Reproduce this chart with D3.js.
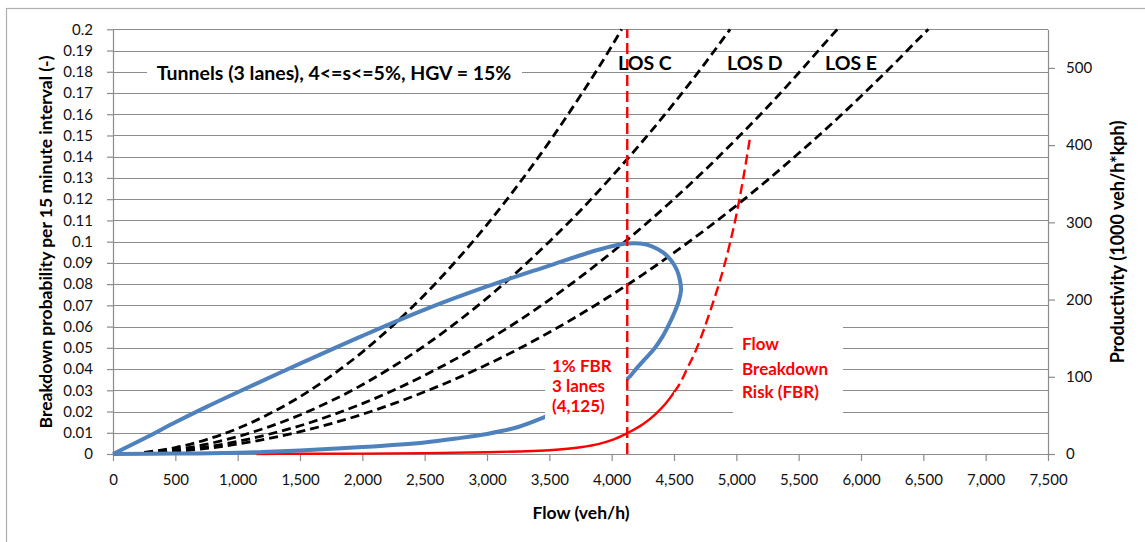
<!DOCTYPE html>
<html><head><meta charset="utf-8">
<script src="https://cdn.jsdelivr.net/npm/d3@7"></script>
<style>
html,body{margin:0;padding:0;background:#fff;}
svg{display:block;font-family:Lato,"Open Sans",sans-serif;}
</style></head><body>
<svg id="chart" width="1145" height="542"></svg>
<script>
// ---- tick values ----
const flowTicks = [0,500,1000,1500,2000,2500,3000,3500,4000,4500,5000,5500,6000,6500,7000,7500];
const probTicks = [0,0.01,0.02,0.03,0.04,0.05,0.06,0.07,0.08,0.09,0.1,0.11,0.12,0.13,0.14,0.15,0.16,0.17,0.18,0.19,0.2];
const prodTicks = [0,100,200,300,400,500];

// ---- LOS dashed curves: [flow, breakdown-probability axis value] ----
const losCurve1 = [[250,0.00075],[500,0.003],[750,0.0068],[1000,0.012],[1250,0.0188],[1500,0.027],[1750,0.0368],[2000,0.048],[2250,0.0608],[2500,0.075],[2750,0.0908],[3000,0.108],[3250,0.1268],[3500,0.147],[3750,0.1688],[4000,0.192],[4080,0.2]];
const losCurve2 = [[250,0.0005],[500,0.002],[750,0.0046],[1000,0.0082],[1250,0.0128],[1500,0.0184],[1750,0.025],[2000,0.0326],[2250,0.0413],[2500,0.051],[2750,0.0617],[3000,0.0734],[3250,0.0862],[3500,0.1],[3750,0.1147],[4000,0.1306],[4250,0.1474],[4500,0.1652],[4750,0.1841],[4950,0.2]];
const losCurve3 = [[250,0.00037],[500,0.0015],[750,0.0033],[1000,0.0059],[1250,0.0093],[1500,0.0133],[1750,0.0182],[2000,0.0237],[2250,0.03],[2500,0.0371],[2750,0.0448],[3000,0.0534],[3250,0.0626],[3500,0.0726],[3750,0.0834],[4000,0.0949],[4250,0.1071],[4500,0.1201],[4750,0.1338],[5000,0.1483],[5250,0.1634],[5500,0.1794],[5750,0.1961],[5810,0.2]];
const losCurve4 = [[250,0.0003],[500,0.0012],[750,0.0026],[1000,0.0047],[1250,0.0073],[1500,0.0105],[1750,0.0143],[2000,0.0187],[2250,0.0237],[2500,0.0293],[2750,0.0354],[3000,0.0421],[3250,0.0494],[3500,0.0573],[3750,0.0658],[4000,0.0749],[4250,0.0845],[4500,0.0948],[4750,0.1056],[5000,0.117],[5250,0.129],[5500,0.1416],[5750,0.1547],[6000,0.1685],[6250,0.1828],[6500,0.1977],[6540,0.2]];

// ---- Productivity loop (right axis): [flow, productivity] ----
const productivity = [[0,0],[250,20],[500,41],[750,61],[1000,80],[1500,117],[2000,153],[2500,187],[3000,217],[3500,244],[3800,260],[4000,269],[4125,272.5],[4230,272.5],[4323,269],[4412,261],[4476,251],[4524,238],[4548,225],[4556,212],[4540,199],[4508,185],[4460,168],[4404,151],[4340,136],[4267,123],[4195,110],[4131,98],[4000,86],[3800,71],[3600,57],[3465,48],[3250,35],[3000,26],[2750,20],[2500,15],[2000,9],[1500,4.5],[1200,2.5],[1000,1.5],[500,0.5],[0,0]];

// ---- Flow breakdown risk (left axis); dashed beyond fbrDashFrom ----
const fbrCurve = [[1150,0],[1500,0.0001],[2000,0.0002],[2500,0.0004],[3000,0.0008],[3250,0.0012],[3500,0.0018],[3750,0.0032],[3900,0.0048],[4000,0.0065],[4125,0.0098],[4250,0.014],[4350,0.0187],[4430,0.0235],[4500,0.029],[4550,0.0335],[4604,0.04],[4684,0.05],[4748,0.06],[4800,0.069],[4850,0.078],[4900,0.088],[4950,0.0995],[5000,0.1125],[5050,0.128],[5110,0.149]];
const fbrDashFrom = 4500;
const fbrMarkerFlow = [4125];

const svg = d3.select("#chart");
const x = d3.scaleLinear().domain([0,7500]).range([113,1048]);
const yL = d3.scaleLinear().domain([0,0.2]).range([454,29.3]);
const yR = d3.scaleLinear().domain([0,550]).range([454,29.3]);
const gridCol = "#8c8c8c";

svg.append("rect").attr("x",0).attr("y",0).attr("width",1145).attr("height",542).attr("fill","#fff");
svg.append("rect").attr("x",6.5).attr("y",8.5).attr("width",1150).attr("height",560)
  .attr("fill","none").attr("stroke","#b0b0b0").attr("stroke-width",1.2);

const defs = svg.append("defs");
defs.append("clipPath").attr("id","clipSolid").append("rect")
  .attr("x",0).attr("y",0).attr("width",x(fbrDashFrom)).attr("height",542);
defs.append("clipPath").attr("id","clipDash").append("rect")
  .attr("x",x(fbrDashFrom)).attr("y",0).attr("width",1145-x(fbrDashFrom)).attr("height",542);

// gridlines
svg.append("g").selectAll("line").data(probTicks.filter(d=>d>0)).join("line")
  .attr("x1",x(0)).attr("x2",x(7500)).attr("y1",d=>Math.round(yL(d))+0.5).attr("y2",d=>Math.round(yL(d))+0.5)
  .attr("stroke",gridCol).attr("stroke-width",1);

function styleAxis(g){
  g.selectAll("path").attr("stroke",gridCol).attr("stroke-width",1.2);
  g.selectAll("line").attr("stroke",gridCol).attr("stroke-width",1.2);
  g.selectAll("text").attr("fill","#111").style("font-family","Lato").style("font-size","15px");
}
const gx = svg.append("g").attr("transform",`translate(0,${yL(0)})`)
  .call(d3.axisBottom(x).tickValues(flowTicks).tickFormat(d3.format(",")).tickSize(7).tickSizeOuter(0).tickPadding(13));
styleAxis(gx);
const gyl = svg.append("g").attr("transform",`translate(${x(0)},0)`)
  .call(d3.axisLeft(yL).tickValues(probTicks).tickFormat(d=>String(d)).tickSize(6).tickSizeOuter(0).tickPadding(14));
styleAxis(gyl);
const gyr = svg.append("g").attr("transform",`translate(${x(7500)},0)`)
  .call(d3.axisRight(yR).tickValues(prodTicks).tickSize(7).tickSizeOuter(0).tickPadding(11));
styleAxis(gyr);

const lineL = d3.line().x(d=>x(d[0])).y(d=>yL(d[1])).curve(d3.curveMonotoneX);
const lineLoop = d3.line().x(d=>x(d[0])).y(d=>yR(d[1])).curve(d3.curveCatmullRom.alpha(0.5));

// LOS curves
[losCurve1,losCurve2,losCurve3,losCurve4].forEach(c=>{
  svg.append("path").attr("d",lineL(c)).attr("fill","none").attr("stroke","#000")
    .attr("stroke-width",2.8).attr("stroke-dasharray","9,5");
});
// FBR
svg.append("path").attr("d",lineL(fbrCurve)).attr("clip-path","url(#clipSolid)").attr("fill","none").attr("stroke","#ff0000").attr("stroke-width",2.4);
svg.append("path").attr("d",lineL(fbrCurve.filter(d=>d[0]>=fbrDashFrom-100))).attr("clip-path","url(#clipDash)").attr("fill","none").attr("stroke","#ff0000").attr("stroke-width",2.4).attr("stroke-dasharray","10,5");
// productivity loop
svg.append("path").attr("d",lineLoop(productivity)).attr("fill","none").attr("stroke","#4f81bd").attr("stroke-width",4).attr("stroke-linejoin","round");

// label boxes
const boxes = [[147,60,375,25],[545,355,81,70],[733,320,110,104]];
svg.append("g").selectAll("rect").data(boxes).join("rect")
  .attr("x",d=>d[0]).attr("y",d=>d[1]).attr("width",d=>d[2]).attr("height",d=>d[3]).attr("fill","#fff");

// vertical 1% FBR marker
svg.append("g").selectAll("line").data(fbrMarkerFlow).join("line")
  .attr("x1",d=>x(d)).attr("x2",d=>x(d)).attr("y1",yL(0)).attr("y2",yL(0.2))
  .attr("stroke","#ff0000").attr("stroke-width",2.4).attr("stroke-dasharray","11,5");

// texts
function txt(s,xx,yy,opt={}){
  return svg.append("text").attr("x",xx).attr("y",yy).text(s)
    .attr("dominant-baseline","central")
    .attr("text-anchor",opt.anchor||"start")
    .attr("fill",opt.fill||"#000")
    .style("font-weight",opt.weight||"bold")
    .style("font-size",(opt.size||17)+"px");
}
txt("Tunnels (3 lanes), 4<=s<=5%, HGV = 15%",334,72,{anchor:"middle",size:19.5});
txt("LOS C",618,62,{size:19.5});
txt("LOS D",727,62,{size:19.5});
txt("LOS E",825,62,{size:19.5});
txt("1% FBR",552,365,{fill:"#ff0000",size:17});
txt("3 lanes",552,385,{fill:"#ff0000",size:17});
txt("(4,125)",552,405,{fill:"#ff0000",size:17});
txt("Flow",742,343,{fill:"#ff0000",size:17});
txt("Breakdown",742,368,{fill:"#ff0000",size:17});
txt("Risk (FBR)",742,391,{fill:"#ff0000",size:17});
txt("Flow (veh/h)",581,512,{anchor:"middle",size:17.5});
txt("Breakdown probability per 15 minute interval (-)",0,0,{anchor:"middle",size:17.5})
  .attr("transform","translate(45,242) rotate(-90)");
txt("Productivity (1000 veh/h*kph)",0,0,{anchor:"middle",size:18})
  .attr("transform","translate(1117,242) rotate(-90)");
</script>
</body></html>
